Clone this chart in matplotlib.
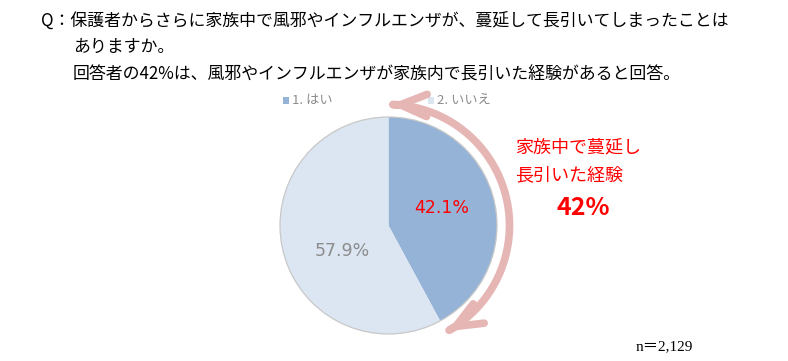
import numpy as np
import matplotlib
matplotlib.use("Agg")
import matplotlib.pyplot as plt
from matplotlib.patches import FancyArrowPatch, Rectangle, Circle
from matplotlib.path import Path

plt.rcParams['font.family'] = ['Noto Sans CJK JP', 'DejaVu Sans']

categories = ["1. はい", "2. いいえ"]
values = [42.1, 57.9]
colors = ["#95B3D7", "#DCE6F2"]
label_colors = ["#FF0000", "#8C8C8C"]
title_lines = ["Q：保護者からさらに家族中で風邪やインフルエンザが、蔓延して長引いてしまったことは",
               "ありますか。",
               "回答者の42%は、風邪やインフルエンザが家族内で長引いた経験があると回答。"]
callout_lines = ["家族中で蔓延し", "長引いた経験"]
callout_value = "42%"
n_text = "n＝2,129"

W, H = 788, 361
fig = plt.figure(figsize=(W / 100, H / 100), dpi=100)
ax = fig.add_axes([0, 0, 1, 1])

cx, cy, r = 388.5, H - 225.5, 108.5
wedges, _ = ax.pie(values, colors=colors, startangle=90, counterclock=False,
                   center=(cx, cy), radius=r, frame=True,
                   wedgeprops=dict(edgecolor="none", linewidth=0))
ax.add_patch(Circle((cx, cy), r, fill=False, edgecolor="#C8C8C8", lw=0.9))
ax.set_xlim(0, W)
ax.set_ylim(0, H)
ax.set_aspect("equal")
ax.axis("off")

# slice labels
ax.text(442, H - 208, f"{values[0]}%", color=label_colors[0], fontsize=12.5,
        ha="center", va="center", family=["DejaVu Sans"])
ax.text(342, H - 251, f"{values[1]}%", color=label_colors[1], fontsize=12.5,
        ha="center", va="center", family=["DejaVu Sans"])

# legend
lx = [283, 428]
for i, (cat, col) in enumerate(zip(categories, colors)):
    ax.add_patch(Rectangle((lx[i], H - 104), 6, 7, color=col, lw=0))
    ax.text(lx[i] + 9, H - 100.5, cat, color="#8C8C8C", fontsize=9.5, va="center", ha="left")

# arc arrow
ar = 121
th = np.radians(np.linspace(89, -61, 150))
pts = np.column_stack([cx + ar * np.cos(th), cy + ar * np.sin(th)])
codes = [Path.MOVETO] + [Path.LINETO] * (len(pts) - 1)
arrow = FancyArrowPatch(path=Path(pts, codes), arrowstyle="<->,head_length=19,head_width=8",
                        color="#E6B6B5", lw=5.5, shrinkA=0, shrinkB=0, capstyle="round",
                        joinstyle="round")
ax.add_patch(arrow)

# title
ax.text(41, H - 21, title_lines[0], fontsize=12.2, va="center", ha="left", color="#000000")
ax.text(73, H - 47, title_lines[1], fontsize=12.2, va="center", ha="left", color="#000000")
ax.text(73, H - 75, title_lines[2], fontsize=12.2, va="center", ha="left", color="#000000")

# callout
ax.text(515, H - 147, callout_lines[0], fontsize=13, color="#FF0000", va="center", ha="left")
ax.text(515, H - 175, callout_lines[1], fontsize=13, color="#FF0000", va="center", ha="left")
ax.text(583, H - 208, callout_value, fontsize=18, color="#FF0000", va="center", ha="center",
        fontweight="bold")

ax.text(636, H - 347, n_text, fontsize=11, va="center", ha="left",
        family=["Liberation Serif", "Noto Sans CJK JP"])

fig.savefig("out.png", dpi=100)
